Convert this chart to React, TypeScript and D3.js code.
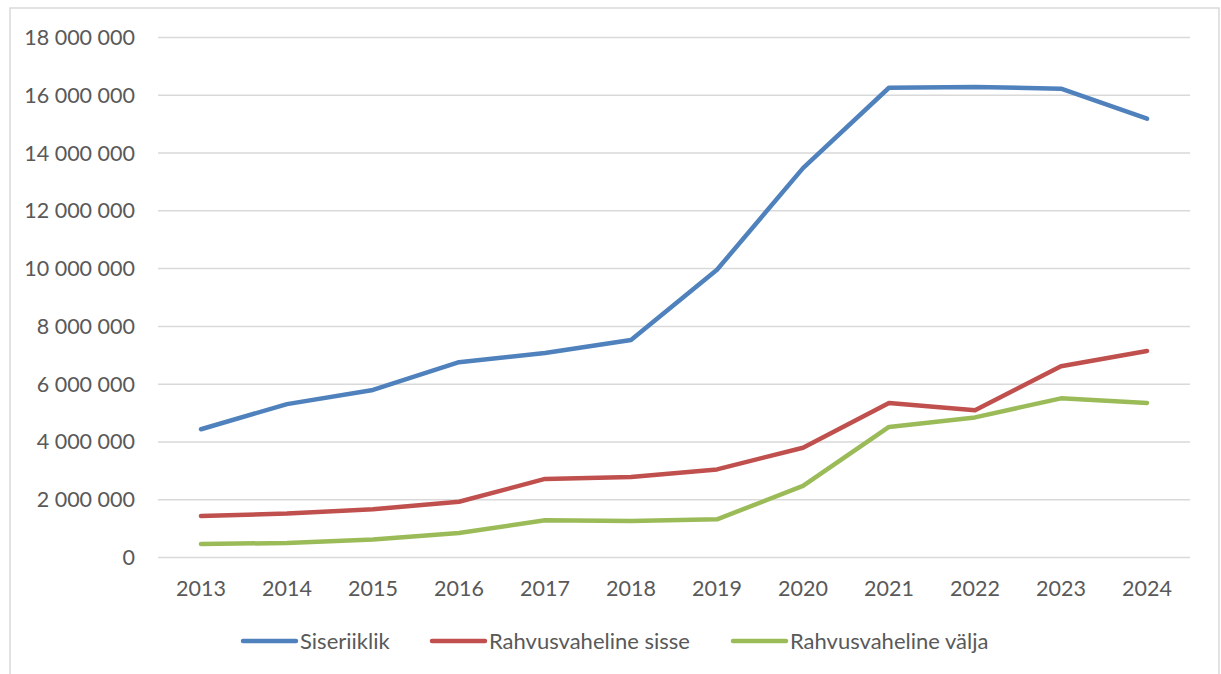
import React, { useRef, useEffect } from 'react';
import * as d3 from 'd3';

const years: string[] = ['2013', '2014', '2015', '2016', '2017', '2018', '2019', '2020', '2021', '2022', '2023', '2024'];

const siseriiklik: number[] = [4440000, 5310000, 5800000, 6760000, 7080000, 7530000, 9960000, 13480000, 16260000, 16290000, 16230000, 15190000];
const rahvSisse: number[] = [1440000, 1520000, 1670000, 1930000, 2720000, 2790000, 3050000, 3800000, 5350000, 5100000, 6620000, 7150000];
const rahvValja: number[] = [470000, 500000, 620000, 850000, 1290000, 1260000, 1320000, 2480000, 4520000, 4850000, 5510000, 5350000];

const seriesNames: string[] = ['Siseriiklik', 'Rahvusvaheline sisse', 'Rahvusvaheline välja'];
const seriesColors: string[] = ['#4f81bd', '#c0504d', '#9bbb59'];
const yTicks: number[] = [0, 2000000, 4000000, 6000000, 8000000, 10000000, 12000000, 14000000, 16000000, 18000000];

const FONT = 'Lato, "Open Sans", sans-serif';
const TEXT = '#595959';

const App: React.FC = () => {
  const svgRef = useRef<SVGSVGElement>(null);

  useEffect(() => {
    if (!svgRef.current) return;
    const svg = d3.select(svgRef.current);
    svg.selectAll('*').remove();

    const plot = { left: 158, right: 1190, top: 37.5, bottom: 557.5 };

    // chart frame (bottom edge is cut off in the picture)
    svg.append('path')
      .attr('d', `M10,700 V8 H1219 V700`)
      .attr('fill', 'none')
      .attr('stroke', '#d9d9d9')
      .attr('stroke-width', 1.5);

    const x = d3.scaleBand<string>()
      .domain(years)
      .range([plot.left, plot.right]);

    const y = d3.scaleLinear()
      .domain([0, 18000000])
      .range([plot.bottom, plot.top]);

    const fmt = (v: number) => d3.format(',')(v).replace(/,/g, ' ');

    // gridlines
    svg.append('g')
      .selectAll('line')
      .data(yTicks)
      .enter().append('line')
      .attr('x1', plot.left)
      .attr('x2', plot.right)
      .attr('y1', d => y(d))
      .attr('y2', d => y(d))
      .attr('stroke', '#d9d9d9')
      .attr('stroke-width', 1.5);

    // y labels
    svg.append('g')
      .selectAll('text')
      .data(yTicks)
      .enter().append('text')
      .attr('x', 135)
      .attr('y', d => y(d))
      .attr('dy', '0.35em')
      .attr('text-anchor', 'end')
      .attr('font-family', FONT)
      .attr('font-size', 21.5)
      .attr('fill', TEXT)
      .text(d => fmt(d));

    // x labels
    svg.append('g')
      .selectAll('text')
      .data(years)
      .enter().append('text')
      .attr('x', d => (x(d) || 0) + x.bandwidth() / 2)
      .attr('y', 596)
      .attr('text-anchor', 'middle')
      .attr('font-family', FONT)
      .attr('font-size', 21.5)
      .attr('fill', TEXT)
      .text(d => d);

    const allSeries = [siseriiklik, rahvSisse, rahvValja];
    const line = d3.line<number>()
      .x((_, i) => (x(years[i]) || 0) + x.bandwidth() / 2)
      .y(d => y(d));

    allSeries.forEach((s, i) => {
      svg.append('path')
        .datum(s)
        .attr('d', line)
        .attr('fill', 'none')
        .attr('stroke', seriesColors[i])
        .attr('stroke-width', 4.5)
        .attr('stroke-linejoin', 'round')
        .attr('stroke-linecap', 'round');
    });

    // legend
    const legendX = [243, 432, 733];
    const legendY = 641;
    const lg = svg.append('g');
    seriesNames.forEach((name, i) => {
      lg.append('line')
        .attr('x1', legendX[i])
        .attr('x2', legendX[i] + 53)
        .attr('y1', legendY)
        .attr('y2', legendY)
        .attr('stroke', seriesColors[i])
        .attr('stroke-width', 4.5)
        .attr('stroke-linecap', 'round');
      lg.append('text')
        .attr('x', legendX[i] + 57)
        .attr('y', legendY)
        .attr('dy', '0.35em')
        .attr('font-family', FONT)
        .attr('font-size', 22)
        .attr('fill', TEXT)
        .text(name);
    });
  }, []);

  return (
    <svg
      ref={svgRef}
      width={1221}
      height={674}
      style={{ position: 'absolute', top: 0, left: 0, background: '#fff' }}
    />
  );
};

export default App;
